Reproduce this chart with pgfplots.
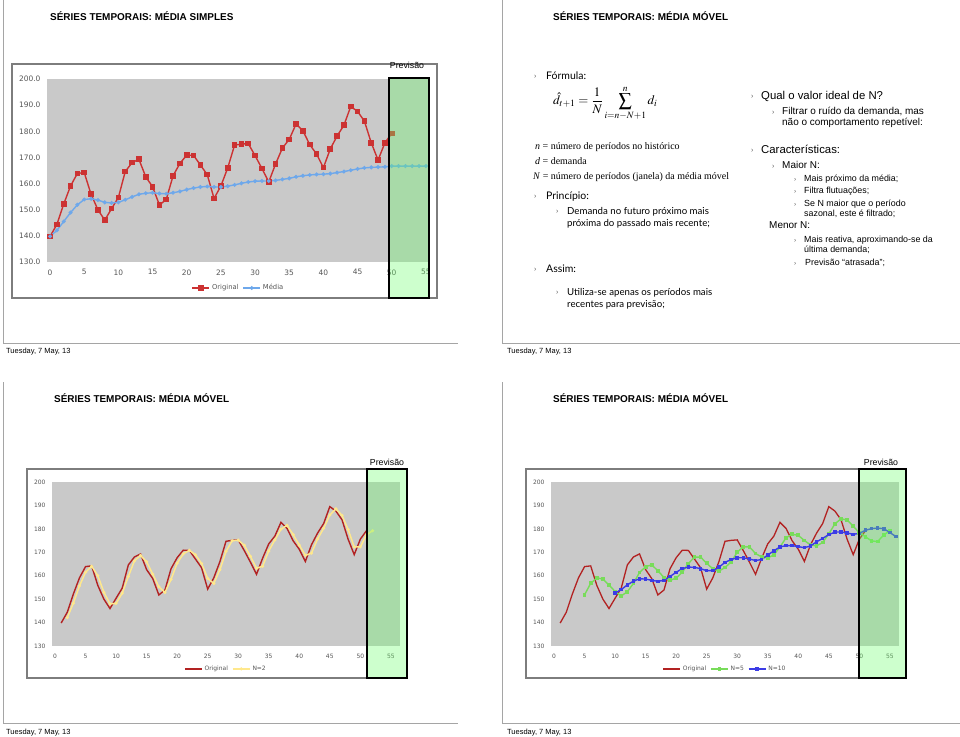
\documentclass[border=0pt]{standalone}
\usepackage{mathptmx}
\usepackage[no-math]{fontspec}
\setmainfont{Liberation Sans}
\newfontfamily\tnr{Liberation Serif}
\newfontfamily\gill{Lato}
\newfontfamily\dejavu{DejaVu Sans}
\usepackage{pgfplots}
\usepackage{pgfplotstable}
\pgfplotsset{compat=1.18}
\newcommand\fs[1]{\fontsize{#1}{#1}\selectfont}

\definecolor{plotgray}{RGB}{201,201,201}
\definecolor{framegray}{RGB}{165,165,165}
\definecolor{bordergray}{RGB}{125,125,125}
\definecolor{tickgray}{RGB}{85,85,85}
\definecolor{redA}{RGB}{204,50,50}
\definecolor{blueA}{RGB}{110,168,235}
\definecolor{redB}{RGB}{178,34,34}
\definecolor{yellowB}{RGB}{255,232,140}
\definecolor{greenB}{RGB}{120,220,90}
\definecolor{blueB}{RGB}{60,60,230}
\definecolor{boxgreen}{RGB}{102,255,102}
\definecolor{bulletgray}{RGB}{90,90,90}

\pgfplotstableread{
x d
1 139.8
2 144.4
3 152.2
4 159.1
5 163.9
6 164.2
7 155.9
8 150.0
9 146.0
10 150.4
11 154.7
12 164.6
13 168.0
14 169.3
15 162.6
16 158.8
17 151.8
18 153.9
19 163.0
20 167.7
21 170.9
22 170.8
23 167.1
24 163.4
25 154.3
26 159.1
27 166.0
28 174.7
29 175.1
30 175.3
31 170.7
32 165.8
33 160.6
34 167.5
35 173.6
36 176.9
37 182.8
38 180.2
39 174.9
40 171.3
41 166.1
42 173.2
43 178.2
44 182.3
45 189.5
46 187.6
47 183.9
48 175.6
49 169.0
50 175.6
51 179.2
}\orig

\pgfplotstableread{
x m
0 139.8
1 142.1
2 145.5
3 148.9
4 151.9
5 153.9
6 154.2
7 153.7
8 152.8
9 152.6
10 152.8
11 153.8
12 154.9
13 155.9
14 156.3
15 156.5
16 156.2
17 156.1
18 156.5
19 157.0
20 157.7
21 158.3
22 158.7
23 158.9
24 158.7
25 158.7
26 159.0
27 159.5
28 160.1
29 160.6
30 160.9
31 161.0
32 161.0
33 161.2
34 161.6
35 162.0
36 162.6
37 163.0
38 163.3
39 163.5
40 163.6
41 163.8
42 164.2
43 164.6
44 165.1
45 165.6
46 166.0
47 166.2
48 166.3
49 166.4
50 166.7
51 166.7
52 166.7
53 166.7
54 166.7
55 166.7
}\media

\pgfplotstableread{
x m
2 142.1
3 148.3
4 155.65
5 161.5
6 164.05
7 160.05
8 152.95
9 148.0
10 148.2
11 152.55
12 159.65
13 166.3
14 168.65
15 165.95
16 160.7
17 155.3
18 152.85
19 158.45
20 165.35
21 169.3
22 170.85
23 168.95
24 165.25
25 158.85
26 156.7
27 162.55
28 170.35
29 174.9
30 175.2
31 173.0
32 168.25
33 163.2
34 164.05
35 170.55
36 175.25
37 179.85
38 181.5
39 177.55
40 173.1
41 168.7
42 169.65
43 175.7
44 180.25
45 185.9
46 188.55
47 185.75
48 179.75
49 172.3
50 172.3
51 177.4
52 179.2
}\mad

\pgfplotstableread{
x m
5 151.88
6 156.76
7 159.06
8 158.62
9 156.0
10 153.3
11 151.4
12 153.14
13 156.74
14 161.4
15 163.84
16 164.66
17 162.1
18 159.28
19 158.02
20 159.04
21 161.46
22 165.26
23 167.9
24 167.98
25 165.3
26 162.94
27 161.98
28 163.5
29 165.84
30 170.04
31 172.36
32 172.32
33 169.5
34 167.98
35 167.64
36 168.88
37 172.28
38 176.2
39 177.68
40 177.22
41 175.06
42 173.14
43 172.74
44 174.22
45 177.86
46 182.16
47 184.3
48 183.78
49 181.12
50 178.34
51 176.66
52 174.85
53 174.6
54 177.4
55 179.2
}\mac

\pgfplotstableread{
x m
10 152.59
11 154.08
12 156.1
13 157.68
14 158.7
15 158.57
16 158.03
17 157.62
18 158.01
19 159.71
20 161.44
21 163.06
22 163.68
23 163.59
24 163.0
25 162.17
26 162.2
27 163.62
28 165.7
29 166.91
30 167.67
31 167.65
32 167.15
33 166.5
34 166.91
35 168.84
36 170.62
37 172.3
38 172.85
39 172.83
40 172.43
41 171.97
42 172.71
43 174.47
44 175.95
45 177.54
46 178.61
47 178.72
48 178.26
49 177.67
50 178.1
51 179.41
52 180.1
53 180.34
54 180.06
55 178.48
56 176.66
}\madez

\pgfplotsset{
  slide/.style={
    scale only axis, anchor=south west,
    axis background/.style={fill=plotgray},
    axis line style={draw=none}, tick style={draw=none},
    major tick length=0pt,
    ymin=130, ymax=200, ytick={130,140,...,200},
    xtick={0,5,...,55},
    /pgf/number format/assume math mode=true,
    legend columns=-1,
    legend style={draw=none, fill=none, at={(0.5,-0.14)}, anchor=center,
      text=tickgray, /tikz/every even column/.append style={column sep=2bp}},
  },
}

\begin{document}
\begin{tikzpicture}
\begin{scope}[x=1bp,y=-1bp]
\useasboundingbox (0,0) rectangle (960,737);
% slide frames
\draw[framegray, line width=1bp] (3,0) -- (3,343) -- (458,343);
\draw[framegray, line width=1bp] (502,0) -- (502,343) -- (960,343);
\draw[framegray, line width=1bp] (3,382) -- (3,723) -- (458,723);
\draw[framegray, line width=1bp] (502,382) -- (502,723) -- (960,723);
% chart borders
\draw[bordergray, line width=1.2bp] (12,64) rectangle (437,298);
\draw[bordergray, line width=1.2bp] (27,469) rectangle (407,678);
\draw[bordergray, line width=1.2bp] (526,469) rectangle (906,678);
\end{scope}

% Chart 1: media simples
\begin{axis}[slide,
  at={(47bp,-262bp)}, width=383bp, height=183bp,
  xmin=-0.45, xmax=55.6,
  ticklabel style={font=\dejavu\fs{7.5}, text=tickgray},
  yticklabel={\pgfmathprintnumber[fixed,fixed zerofill,precision=1]{\tick}},
  yticklabel style={xshift=-3bp},
  xticklabel style={yshift=-4bp},
  legend style={font=\dejavu\fs{6.8}, at={(0.5,-0.142)}},
]
\addplot[redA, line width=1.4bp, mark=square*, mark size=2.1bp, mark options={solid, fill=redA}]
  table[x expr=\thisrow{x}-1, y=d] {\orig};
\addlegendentry{Original}
\addplot[blueA, line width=1.4bp, mark=*, mark size=1.2bp, mark options={solid, fill=blueA}]
  table[x=x, y=m] {\media};
\addlegendentry{Média}
\end{axis}

% Chart 3: N=2
\begin{axis}[slide,
  at={(52bp,-646bp)}, width=348bp, height=164bp,
  xmin=-0.5, xmax=56.5,
  ticklabel style={font=\dejavu\fs{6}, text=tickgray},
  yticklabel style={xshift=-3bp},
  xticklabel style={yshift=-4.5bp},
  legend style={font=\dejavu\fs{6}},
]
\addplot[redB, line width=1.4bp] table[x=x, y=d] {\orig};
\addlegendentry{Original}
\addplot[yellowB, line width=1.5bp, mark=*, mark size=0.7bp, mark options={solid}] table[x=x, y=m] {\mad};
\addlegendentry{N=2}
\end{axis}

% Chart 4: N=5, N=10
\begin{axis}[slide,
  at={(551bp,-646bp)}, width=348bp, height=164bp,
  xmin=-0.5, xmax=56.5,
  ticklabel style={font=\dejavu\fs{6}, text=tickgray},
  yticklabel style={xshift=-3bp},
  xticklabel style={yshift=-4.5bp},
  legend style={font=\dejavu\fs{6}},
]
\addplot[redB, line width=1.3bp] table[x=x, y=d] {\orig};
\addlegendentry{Original}
\addplot[greenB, line width=1.4bp, mark=square*, mark size=1.2bp, mark options={solid}] table[x=x, y=m] {\mac};
\addlegendentry{N=5}
\addplot[blueB, line width=1.4bp, mark=square*, mark size=1.1bp, mark options={solid}] table[x=x, y=m] {\madez};
\addlegendentry{N=10}
\end{axis}

\begin{scope}[x=1bp,y=-1bp]
% forecast boxes
\fill[boxgreen, opacity=0.33] (389,78) rectangle (429,298);
\draw[black, line width=1.5bp] (389,78) rectangle (429,298);
\fill[boxgreen, opacity=0.33] (367,469) rectangle (407,678);
\draw[black, line width=1.5bp] (367,469) rectangle (407,678);
\fill[boxgreen, opacity=0.33] (859,469) rectangle (906,678);
\draw[black, line width=1.5bp] (859,469) rectangle (906,678);
\node[inner sep=0] at (407,65) {\fs{8.8}Previsão};
\node[inner sep=0] at (387,462) {\fs{8.8}Previsão};
\node[inner sep=0] at (881,462) {\fs{8.8}Previsão};

% titles
\node[anchor=base west, inner sep=0] at (50,21) {\bfseries\fs{10}SÉRIES TEMPORAIS: MÉDIA SIMPLES};
\node[anchor=base west, inner sep=0] at (553,21) {\bfseries\fs{10}SÉRIES TEMPORAIS: MÉDIA MÓVEL};
\node[anchor=base west, inner sep=0] at (54,402) {\bfseries\fs{10}SÉRIES TEMPORAIS: MÉDIA MÓVEL};
\node[anchor=base west, inner sep=0] at (553,402) {\bfseries\fs{10}SÉRIES TEMPORAIS: MÉDIA MÓVEL};

% dates
\node[anchor=base west, inner sep=0] at (6,353) {\fs{7.5}Tuesday, 7 May, 13};
\node[anchor=base west, inner sep=0] at (507,353) {\fs{7.5}Tuesday, 7 May, 13};
\node[anchor=base west, inner sep=0] at (6,734) {\fs{7.5}Tuesday, 7 May, 13};
\node[anchor=base west, inner sep=0] at (507,734) {\fs{7.5}Tuesday, 7 May, 13};

% left column (Gill-like)
\node[anchor=base west, inner sep=0] at (534,79) {\color{bulletgray}\fs{7}›};
\node[anchor=base west, inner sep=0] at (546,80) {\gill\fs{10.5}Fórmula:};
\node[anchor=west, inner sep=0] at (553,103) {\fs{13}$\displaystyle \hat{d}_{t+1}=\frac{1}{N}\sum_{i=n-N+1}^{n} d_i$};
\node[anchor=base west, inner sep=0] at (535,149.5) {\tnr\fs{10}\textit{n} = número de períodos no histórico};
\node[anchor=base west, inner sep=0] at (535,164) {\tnr\fs{10}\textit{d} = demanda};
\node[anchor=base west, inner sep=0] at (533,179.5) {\tnr\fs{10}\textit{N} = número de períodos (janela) da média móvel};
\node[anchor=base west, inner sep=0] at (534,198) {\color{bulletgray}\fs{7}›};
\node[anchor=base west, inner sep=0] at (546,199) {\gill\fs{10.5}Princípio:};
\node[anchor=base west, inner sep=0] at (556,213) {\color{bulletgray}\fs{7}›};
\node[anchor=base west, inner sep=0] at (567,214) {\gill\fs{9.7}Demanda no futuro próximo mais};
\node[anchor=base west, inner sep=0] at (567,226) {\gill\fs{9.7}próxima do passado mais recente;};
\node[anchor=base west, inner sep=0] at (534,271) {\color{bulletgray}\fs{7}›};
\node[anchor=base west, inner sep=0] at (546,272) {\gill\fs{10.5}Assim:};
\node[anchor=base west, inner sep=0] at (556,294) {\color{bulletgray}\fs{7}›};
\node[anchor=base west, inner sep=0] at (567,295) {\gill\fs{9.7}Utiliza-se apenas os períodos mais};
\node[anchor=base west, inner sep=0] at (567,307) {\gill\fs{9.7}recentes para previsão;};

% right column (Arial-like)
\node[anchor=base west, inner sep=0] at (751,98) {\color{bulletgray}\fs{7}›};
\node[anchor=base west, inner sep=0] at (761,99) {\fs{11.4}Qual o valor ideal de N?};
\node[anchor=base west, inner sep=0] at (772,114) {\color{bulletgray}\fs{7}›};
\node[anchor=base west, inner sep=0] at (782,114.5) {\fs{10}Filtrar o ruído da demanda, mas};
\node[anchor=base west, inner sep=0] at (782,125.5) {\fs{10}não o comportamento repetível:};
\node[anchor=base west, inner sep=0] at (751,152) {\color{bulletgray}\fs{7}›};
\node[anchor=base west, inner sep=0] at (761,153) {\fs{11.4}Características:};
\node[anchor=base west, inner sep=0] at (772,168) {\color{bulletgray}\fs{7}›};
\node[anchor=base west, inner sep=0] at (782,168.5) {\fs{10}Maior N:};
\node[anchor=base west, inner sep=0] at (794,181) {\color{bulletgray}\fs{6.5}›};
\node[anchor=base west, inner sep=0] at (804,181) {\fs{8.9}Mais próximo da média;};
\node[anchor=base west, inner sep=0] at (794,193) {\color{bulletgray}\fs{6.5}›};
\node[anchor=base west, inner sep=0] at (804,193) {\fs{8.9}Filtra flutuações;};
\node[anchor=base west, inner sep=0] at (794,206) {\color{bulletgray}\fs{6.5}›};
\node[anchor=base west, inner sep=0] at (804,206) {\fs{8.9}Se N maior que o período};
\node[anchor=base west, inner sep=0] at (804,216) {\fs{8.9}sazonal, este é filtrado;};
\node[anchor=base west, inner sep=0] at (769,228.5) {\fs{10}Menor N:};
\node[anchor=base west, inner sep=0] at (794,242) {\color{bulletgray}\fs{6.5}›};
\node[anchor=base west, inner sep=0] at (804,242) {\fs{8.9}Mais reativa, aproximando-se da};
\node[anchor=base west, inner sep=0] at (804,252) {\fs{8.9}última demanda;};
\node[anchor=base west, inner sep=0] at (794,265) {\color{bulletgray}\fs{6.5}›};
\node[anchor=base west, inner sep=0] at (805,265) {\fs{8.9}Previsão “atrasada”;};
\end{scope}
\end{tikzpicture}
\end{document}
